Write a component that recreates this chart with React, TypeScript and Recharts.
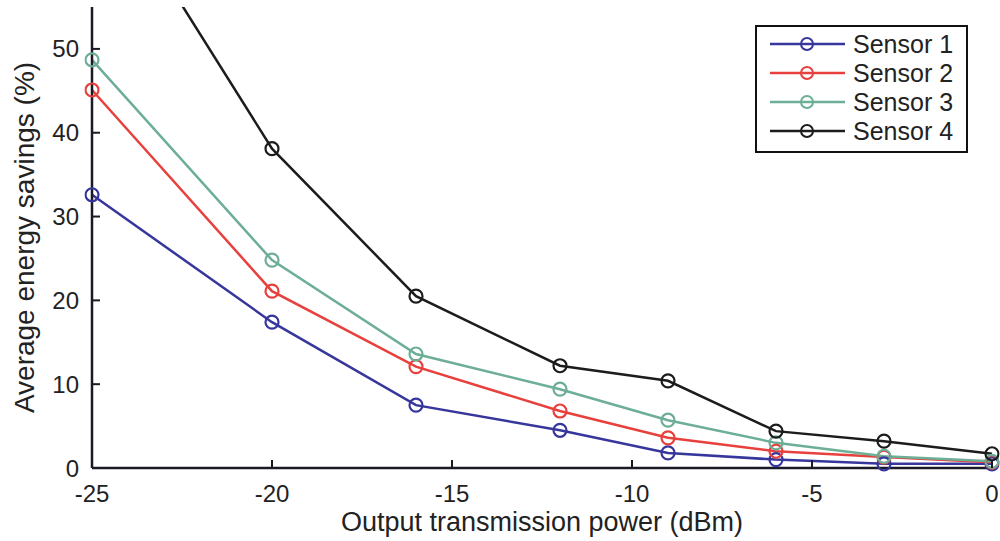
import React from 'react';
import { LineChart, Line, XAxis, YAxis, Legend, Label } from 'recharts';

const powers = [-25, -20, -16, -12, -9, -6, -3, 0];
const sensor1 = [32.6, 17.4, 7.5, 4.5, 1.8, 1.0, 0.5, 0.5];
const sensor2 = [45.1, 21.1, 12.1, 6.8, 3.6, 2.0, 1.3, 0.7];
const sensor3 = [48.7, 24.8, 13.6, 9.4, 5.7, 3.0, 1.4, 0.8];
const sensor4 = [72.3, 38.1, 20.5, 12.2, 10.4, 4.4, 3.2, 1.7];
const xTicks = [-25, -20, -15, -10, -5, 0];
const yTicks = [0, 10, 20, 30, 40, 50];
const seriesNames = ['Sensor 1', 'Sensor 2', 'Sensor 3', 'Sensor 4'];
const seriesKeys = ['s1', 's2', 's3', 's4'];
const seriesColors = ['#36369c', '#e8403c', '#6dae96', '#1c1c1c'];

const data = powers.map((p, i) => ({
  p,
  s1: sensor1[i],
  s2: sensor2[i],
  s3: sensor3[i],
  s4: sensor4[i],
}));

const AX = '#1a1a26';
const FONT = 'Liberation Sans, Arial, Helvetica, sans-serif';
const TL = 8;

const LeftTick = (props: any) => {
  const { x, y, payload } = props;
  return (
    <g>
      <line x1={x} x2={x + TL} y1={y} y2={y} stroke={AX} strokeWidth={2} />
      <text x={x - 13} y={y + 8.5} textAnchor="end" fontSize={24} fontFamily={FONT} fill="#222">
        {payload.value}
      </text>
    </g>
  );
};

const RightTick = (props: any) => {
  const { x, y } = props;
  return <line x1={x} x2={x - TL} y1={y} y2={y} stroke={AX} strokeWidth={2} />;
};

const BottomTick = (props: any) => {
  const { x, y, payload } = props;
  return (
    <g>
      <line x1={x} x2={x} y1={y} y2={y - TL} stroke={AX} strokeWidth={2} />
      <text x={x} y={y + 34} textAnchor="middle" fontSize={24} fontFamily={FONT} fill="#222">
        {payload.value}
      </text>
    </g>
  );
};

const TopTick = (props: any) => {
  const { x, y } = props;
  return <line x1={x} x2={x} y1={y} y2={y + TL} stroke={AX} strokeWidth={2} />;
};

const LegendBox = () => (
  <div style={{ width: 213, height: 128, border: '2px solid #111', boxSizing: 'border-box', background: '#fff' }}>
    <svg width={209} height={124} style={{ display: 'block' }}>
      {seriesNames.map((n, i) => {
        const cy = 17 + i * 29;
        return (
          <g key={n}>
            <line x1={13} x2={88} y1={cy} y2={cy} stroke={seriesColors[i]} strokeWidth={2.5} />
            <circle cx={50} cy={cy} r={6} fill="none" stroke={seriesColors[i]} strokeWidth={2} />
            <text x={96} y={cy} dominantBaseline="central" fontSize={25} fontFamily={FONT} fill="#222">
              {n}
            </text>
          </g>
        );
      })}
    </svg>
  </div>
);

export default function App() {
  return (
    <div style={{ position: 'absolute', left: 0, top: 0, width: 1000, height: 541, background: '#fff' }}>
      <LineChart width={1000} height={541} data={data} margin={{ top: 7, right: 8, bottom: 0, left: 0 }}>
        <XAxis
          dataKey="p"
          type="number"
          domain={[-25, 0]}
          ticks={xTicks}
          height={73}
          tickSize={0}
          tickMargin={0}
          tickLine={false}
          axisLine={{ stroke: AX, strokeWidth: 2.5 }}
          tick={BottomTick}
          interval={0}
        >
          <Label
            value="Output transmission power (dBm)"
            position="insideBottom"
            offset={10}
            style={{ fontSize: 27, fontFamily: FONT, fill: '#222' }}
          />
        </XAxis>
        <XAxis
          xAxisId="top"
          dataKey="p"
          type="number"
          orientation="top"
          domain={[-25, 0]}
          ticks={xTicks}
          height={0}
          tickSize={0}
          tickMargin={0}
          tickLine={false}
          axisLine={{ stroke: AX, strokeWidth: 2.5 }}
          tick={TopTick}
          interval={0}
        />
        <YAxis
          type="number"
          domain={[0, 55]}
          ticks={yTicks}
          allowDataOverflow
          width={92}
          tickSize={0}
          tickMargin={0}
          tickLine={false}
          axisLine={{ stroke: AX, strokeWidth: 2.5 }}
          tick={LeftTick}
          interval={0}
        >
          <Label
            value="Average energy savings (%)"
            angle={-90}
            position="insideLeft"
            offset={24}
            style={{ fontSize: 28, fontFamily: FONT, fill: '#222', textAnchor: 'middle' }}
          />
        </YAxis>
        <YAxis
          yAxisId="right"
          orientation="right"
          type="number"
          domain={[0, 55]}
          ticks={yTicks}
          allowDataOverflow
          width={0}
          tickSize={0}
          tickMargin={0}
          tickLine={false}
          axisLine={{ stroke: AX, strokeWidth: 2.5 }}
          tick={RightTick}
          interval={0}
        />
        {seriesKeys.map((k, i) => (
          <Line
            key={k}
            dataKey={k}
            name={seriesNames[i]}
            type="linear"
            stroke={seriesColors[i]}
            strokeWidth={2.5}
            dot={{ r: 6.5, strokeWidth: 2.2, fill: 'none', stroke: seriesColors[i], clipDot: false } as any}
            activeDot={false}
            isAnimationActive={false}
          />
        ))}
        <Legend
          layout="vertical"
          align="center"
          verticalAlign="middle"
          content={LegendBox}
          wrapperStyle={{ left: 755, top: 25, width: 213, height: 128 }}
        />
      </LineChart>
    </div>
  );
}
